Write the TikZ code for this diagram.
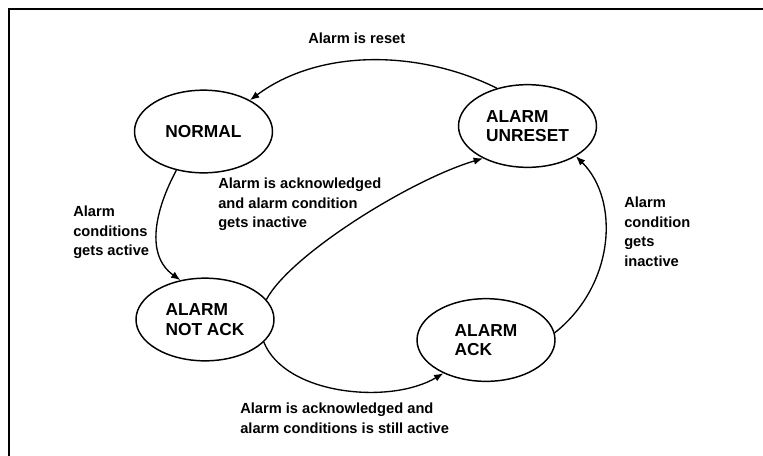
\documentclass[tikz,border=0pt]{standalone}
\usepackage{fontspec}
\setmainfont{Liberation Sans}
\usetikzlibrary{arrows.meta,shapes.geometric}
\begin{document}
\begin{tikzpicture}[x=0.75pt,y=-0.75pt,
  state/.style={ellipse,draw,line width=1.1pt,minimum width=103.5pt,minimum height=62pt,
    inner sep=0pt,align=left,font=\fontsize{13}{14.6}\selectfont\bfseries},
  trans/.style={line width=1pt,-{Latex[length=7pt,width=5.5pt]}},
  lbl/.style={anchor=north west,inner sep=0pt,align=left,font=\fontsize{11}{14.6}\selectfont\bfseries}]
\useasboundingbox (0,0) rectangle (763,455);
% frame
\draw[line width=1.5pt] (8.7,456) -- (8.7,8.5) -- (764,8.5);

% states
\node[state] (normal)  at (203.5,131.5) {NORMAL};
\node[state] (unreset) at (527.5,126)   {ALARM\\UNRESET};
\node[state] (notack)  at (205,319.5)   {ALARM\\NOT ACK};
\node[state] (ack)     at (486,340)     {ALARM\\ACK};

% transitions
\draw[trans] (unreset.129) .. controls (420,50) and (320,48) .. (normal.34);
\draw[trans] (normal.235) .. controls (155,210) and (145,255) .. (notack.122);
\draw[trans] (notack.18) .. controls (290,255) and (410,180) .. (unreset.216);
\draw[trans] (notack.-21) .. controls (285,395) and (390,405) .. (ack.218);
\draw[trans] (ack.6) .. controls (615,285) and (620,200) .. (unreset.-32);

% transition labels
\node[lbl] (lreset)  at (308,33)  {Alarm is reset};
\node[lbl] (lactive) at (73,206)  {Alarm\\conditions\\gets active};
\node[lbl] (lackin)  at (218,178) {Alarm is acknowledged\\and alarm condition\\gets inactive};
\node[lbl] (lackact) at (240,403) {Alarm is acknowledged and\\alarm conditions is still active};
\node[lbl] (linact)  at (624,197) {Alarm\\condition\\gets\\inactive};
\end{tikzpicture}
\end{document}
